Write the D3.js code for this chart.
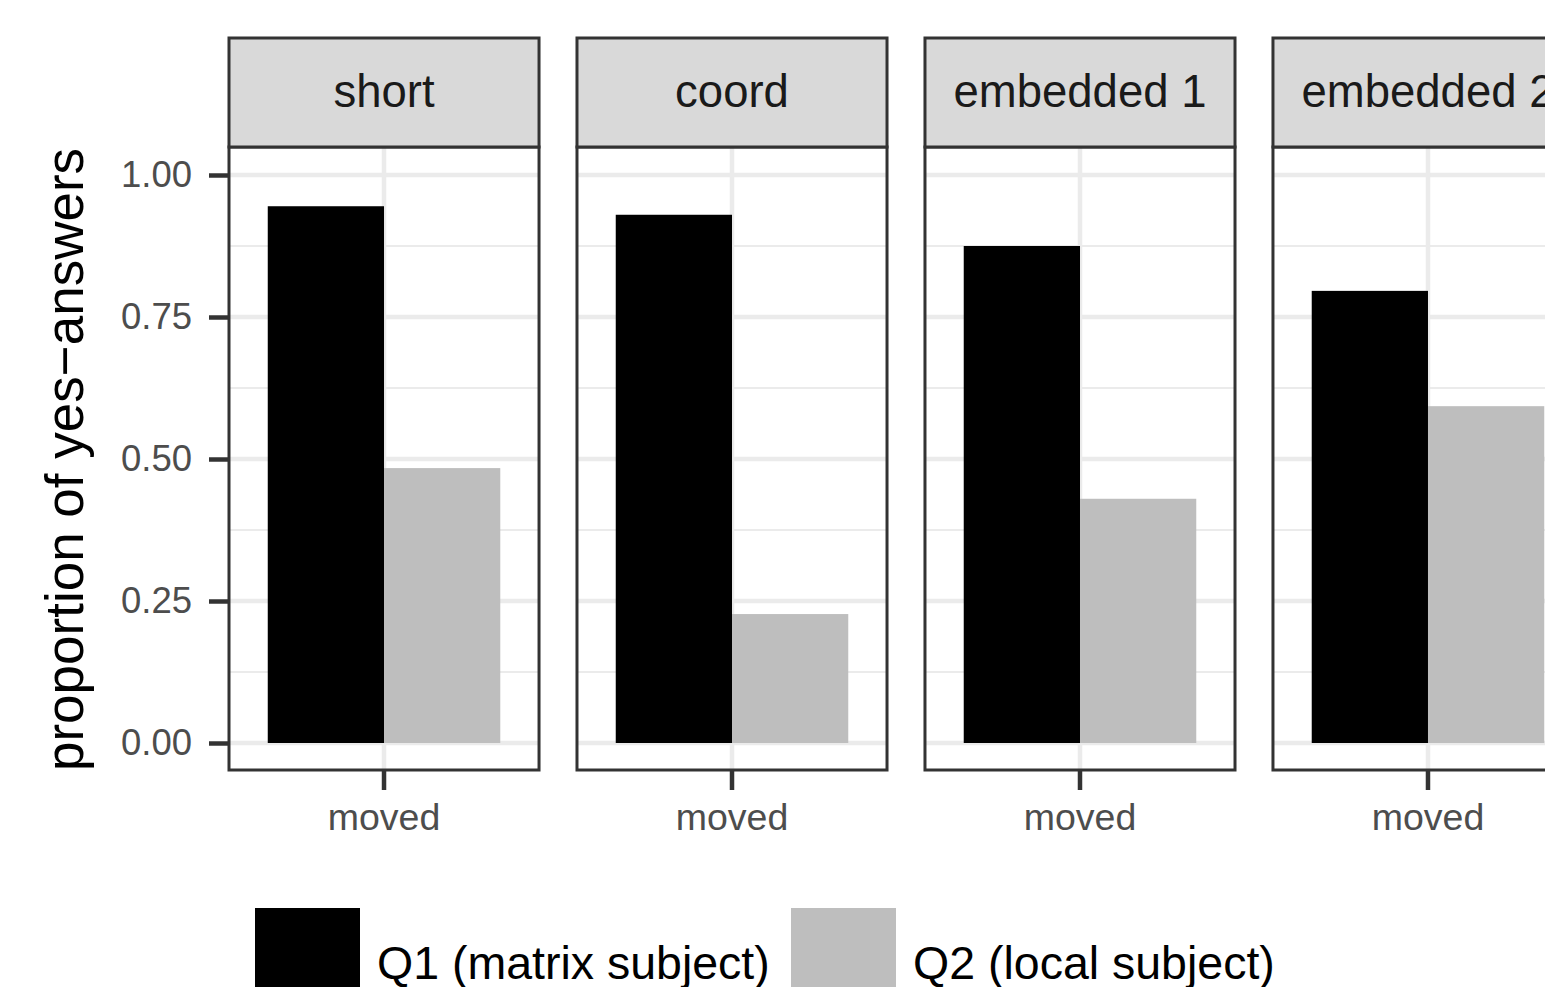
<!DOCTYPE html>
<html><head><meta charset="utf-8">
<script src="https://cdn.jsdelivr.net/npm/d3@7"></script>
<style>body{margin:0;background:#fff;} svg{display:block;font-family:"Liberation Sans",Arial,Helvetica,sans-serif;}</style>
</head><body>
<script>
const facets = ["short", "coord", "embedded 1", "embedded 2"];
const xCategories = ["moved"];
const series = ["Q1 (matrix subject)", "Q2 (local subject)"];
const q1Values = [0.945, 0.930, 0.875, 0.796];
const q2Values = [0.484, 0.227, 0.430, 0.593];
const yTicks = [0, 0.25, 0.5, 0.75, 1];
const yTickLabels = ["0.00", "0.25", "0.50", "0.75", "1.00"];
const yMinor = [0.125, 0.375, 0.625, 0.875];
const colors = ["#000000", "#BEBEBE"];

const W = 1545, H = 987;
const svg = d3.select("body").append("svg").attr("width", W).attr("height", H);

const panelTop = 147, panelBottom = 770, stripTop = 38;
const fx = d3.scaleBand().domain(facets).range([229, 1583]).paddingInner(38/348.33).paddingOuter(0);
const pw = fx.bandwidth();
const y = d3.scaleLinear().domain([0, 1]).range([743, 175]);
const xPos = d3.scaleLinear().domain([0.4, 1.6]).range([0, pw]);
const dodge = d3.scaleBand().domain(series).range([xPos(1 - 0.45), xPos(1 + 0.45)]).padding(0);

facets.forEach((f, i) => {
  const g = svg.append("g").attr("transform", `translate(${fx(f)},0)`);
  g.append("rect").attr("x", 0).attr("y", panelTop).attr("width", pw).attr("height", panelBottom - panelTop).attr("fill", "#fff");
  yMinor.forEach(v => g.append("line").attr("x1", 0).attr("x2", pw).attr("y1", y(v)).attr("y2", y(v)).attr("stroke", "#EBEBEB").attr("stroke-width", 2.2));
  yTicks.forEach(v => g.append("line").attr("x1", 0).attr("x2", pw).attr("y1", y(v)).attr("y2", y(v)).attr("stroke", "#EBEBEB").attr("stroke-width", 4.5));
  xCategories.forEach((c, ci) => g.append("line").attr("x1", xPos(ci + 1)).attr("x2", xPos(ci + 1)).attr("y1", panelTop).attr("y2", panelBottom).attr("stroke", "#EBEBEB").attr("stroke-width", 4.5));
  const vals = [q1Values[i], q2Values[i]];
  series.forEach((s, si) => {
    g.append("rect").attr("x", dodge(s)).attr("width", dodge.bandwidth())
      .attr("y", y(vals[si])).attr("height", y(0) - y(vals[si])).attr("fill", colors[si]);
  });
  g.append("rect").attr("x", 0).attr("y", panelTop).attr("width", pw).attr("height", panelBottom - panelTop)
    .attr("fill", "none").attr("stroke", "#333333").attr("stroke-width", 3);
  g.append("rect").attr("x", 0).attr("y", stripTop).attr("width", pw).attr("height", panelTop - stripTop)
    .attr("fill", "#D9D9D9").attr("stroke", "#333333").attr("stroke-width", 3);
  g.append("text").attr("x", pw / 2).attr("y", 107).attr("text-anchor", "middle")
    .attr("font-size", 45.5).attr("fill", "#1A1A1A").text(f);
  xCategories.forEach((c, ci) => {
    g.append("line").attr("x1", xPos(ci + 1)).attr("x2", xPos(ci + 1)).attr("y1", panelBottom).attr("y2", panelBottom + 20)
      .attr("stroke", "#333333").attr("stroke-width", 4.5);
    g.append("text").attr("x", xPos(ci + 1)).attr("y", 830).attr("text-anchor", "middle")
      .attr("font-size", 37.5).attr("fill", "#4D4D4D").text(c);
  });
});

// y axis
const yAxis = d3.axisLeft(y).tickValues(yTicks).tickFormat((d, i) => yTickLabels[i]).tickSize(20).tickPadding(17);
const ya = svg.append("g").attr("transform", `translate(${fx(facets[0])},0)`).call(yAxis);
ya.select(".domain").remove();
ya.selectAll(".tick line").attr("stroke", "#333333").attr("stroke-width", 4.5);
ya.selectAll(".tick text").attr("font-size", 36.5).attr("fill", "#4D4D4D").attr("font-family", "Liberation Sans, Arial, sans-serif");

// y title
svg.append("text").attr("transform", `translate(83,${(panelTop + panelBottom) / 2 + 1}) rotate(-90)`)
  .attr("text-anchor", "middle").attr("font-size", 53).attr("fill", "#000").text("proportion of yes\u2212answers");

// legend
const legX = [255, 791];
series.forEach((s, si) => {
  svg.append("rect").attr("x", legX[si]).attr("y", 908).attr("width", 105).attr("height", 105).attr("fill", colors[si]);
  svg.append("text").attr("x", legX[si] + 122).attr("y", 979).attr("font-size", 46.5).attr("fill", "#000").text(s);
});
</script>
</body></html>
